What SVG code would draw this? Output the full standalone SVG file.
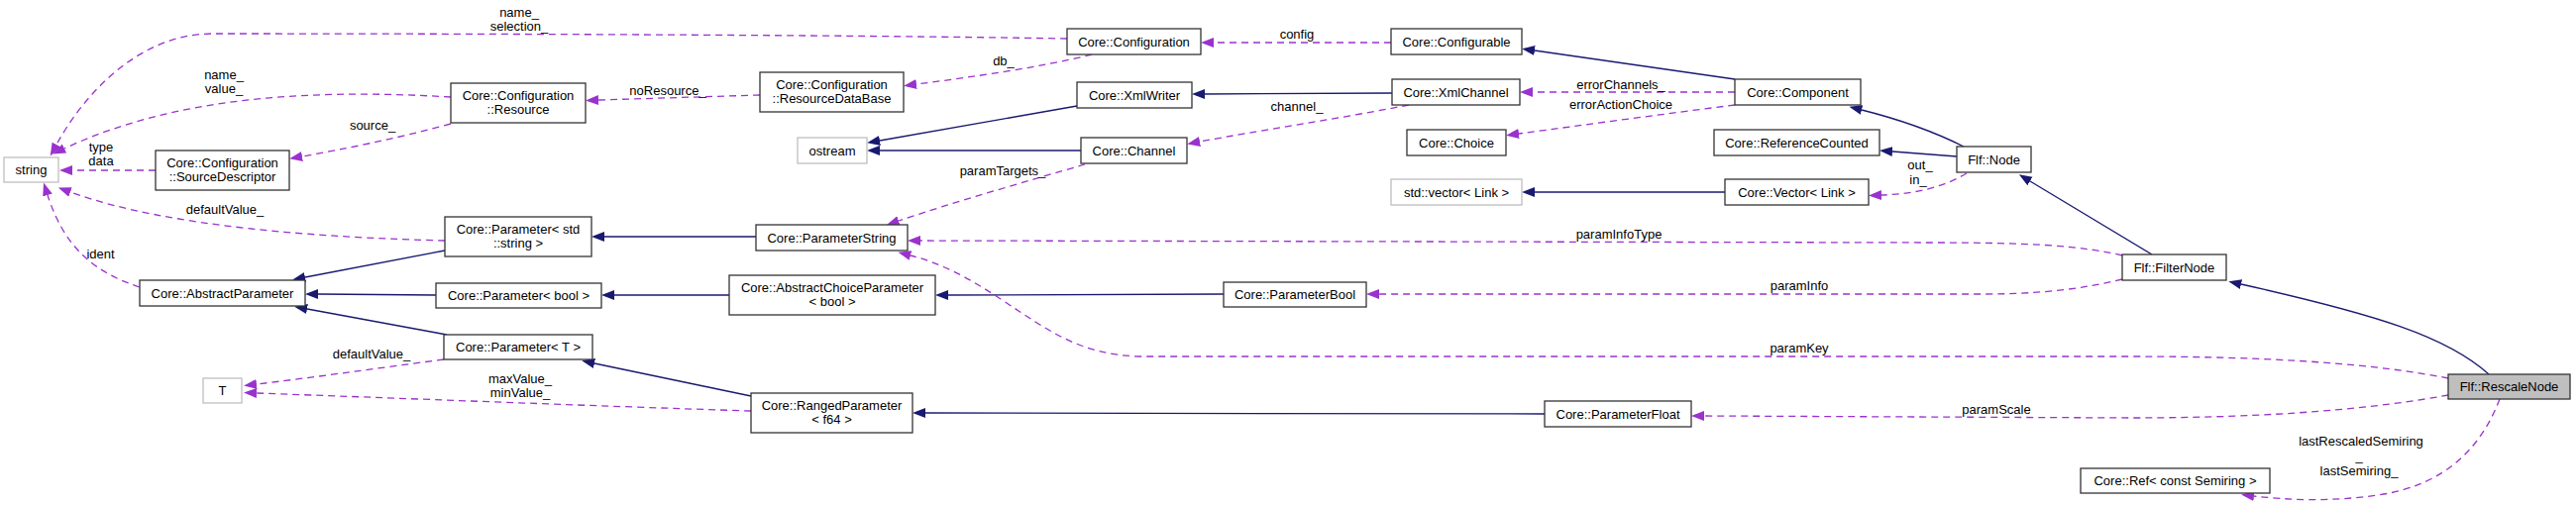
<svg xmlns="http://www.w3.org/2000/svg" width="2600" height="510" viewBox="0 0 2600 510">
<defs>
<style>
text{font-family:"Liberation Sans",Arial,Helvetica,sans-serif;font-size:13px;text-anchor:middle;fill:#000}
.n rect{fill:#fff;stroke:#333;stroke-width:1.3}
.g rect{stroke:#bfbfbf}
.hl rect{fill:#bfbfbf}
.inh{fill:none;stroke:#191970;stroke-width:1.3;marker-end:url(#an)}
.use{fill:none;stroke:#9a32cd;stroke-width:1.3;stroke-dasharray:7,5;marker-end:url(#au)}
</style>
<marker id="an" markerUnits="userSpaceOnUse" markerWidth="14" markerHeight="11" viewBox="0 0 14 11" refX="0" refY="5" orient="auto"><path d="M0,0 L13,5 L0,10 z" fill="#191970" stroke="none"/></marker>
<marker id="au" markerUnits="userSpaceOnUse" markerWidth="14" markerHeight="11" viewBox="0 0 14 11" refX="0" refY="5" orient="auto"><path d="M0,0 L13,5 L0,10 z" fill="#9a32cd" stroke="none"/></marker>
</defs>
<rect width="2600" height="510" fill="#fff"/>
<g id="connectors">
<path class="use" d="M1077,39 C850,35 450,34 215,34 C140,34 85,95 57,146"/>
<path class="use" d="M455,98 C320,90 180,96 65,150"/>
<path class="use" d="M455,125 C400,140 350,150 305,158"/>
<path class="use" d="M157,172 L73,172"/>
<path class="use" d="M449,243 C330,240 170,230 71,194"/>
<path class="use" d="M141,290 C95,275 65,250 48,197"/>
<path class="inh" d="M449,253 L308,280"/>
<path class="inh" d="M440,298 L321,297"/>
<path class="inh" d="M451,338 L310,312"/>
<path class="use" d="M448,363 C380,372 310,382 259,388"/>
<path class="use" d="M758,415 C600,410 400,402 259,397"/>
<path class="inh" d="M758,400 L600,367"/>
<path class="inh" d="M736,298 L620,298"/>
<path class="inh" d="M1235,297 L957,298"/>
<path class="inh" d="M1559,418 L934,417"/>
<path class="use" d="M1102,55 C1050,68 980,78 925,85"/>
<path class="use" d="M767,96 L604,101"/>
<path class="inh" d="M1087,107 L888,142"/>
<path class="inh" d="M1091,152 L888,152"/>
<path class="use" d="M1095,166 C1040,182 960,205 907,223"/>
<path class="inh" d="M763,239 L610,239"/>
<path class="inh" d="M1405,94 L1216,95"/>
<path class="use" d="M1422,106 C1350,120 1270,132 1211,143"/>
<path class="use" d="M1404,43 L1225,43"/>
<path class="inh" d="M1751,80 L1549,51"/>
<path class="use" d="M1751,93 L1547,93"/>
<path class="use" d="M1751,106 C1680,115 1600,126 1533,135"/>
<path class="inh" d="M1982,148 C1950,132 1915,120 1879,111"/>
<path class="inh" d="M1975,158 L1910,153"/>
<path class="use" d="M1985,175 C1960,190 1930,196 1899,197"/>
<path class="inh" d="M1741,194 L1549,194"/>
<path class="inh" d="M2172,257 L2049,183"/>
<path class="inh" d="M2512,378 C2470,340 2400,318 2262,287"/>
<path class="use" d="M2142,282 C2100,292 2060,297 2000,297 L1392,297"/>
<path class="use" d="M2142,258 C2100,248 2050,245 1950,245 L929,243"/>
<path class="use" d="M2471,382 C2400,368 2300,360 2150,360 L1150,360 C1090,358 1060,335 1010,302 C975,279 950,266 919,258"/>
<path class="use" d="M2471,399 C2400,412 2300,422 2150,422 L1720,420"/>
<path class="use" d="M2523,403 C2505,450 2470,490 2400,500 C2350,507 2310,505 2275,501"/>
</g>
<g id="edge-labels">
<text x="524" y="16.5">name_</text><text x="524" y="31">selection_</text>
<text x="226" y="80">name_</text><text x="226" y="94">value_</text>
<text x="376" y="131">source_</text>
<text x="102" y="153">type</text><text x="102" y="167">data</text>
<text x="227" y="216">defaultValue_</text>
<text x="101.5" y="261">ident</text>
<text x="375" y="362">defaultValue_</text>
<text x="525" y="387">maxValue_</text><text x="525" y="401">minValue_</text>
<text x="1013" y="66">db_</text>
<text x="674" y="95.5">noResource_</text>
<text x="1012" y="177">paramTargets_</text>
<text x="1309" y="39">config</text>
<text x="1309" y="112">channel_</text>
<text x="1636" y="89.5">errorChannels_</text>
<text x="1636" y="109.5">errorActionChoice</text>
<text x="1938" y="171">out_</text><text x="1936" y="185.5">in_</text>
<text x="1634" y="241">paramInfoType</text>
<text x="1816" y="293">paramInfo</text>
<text x="1816" y="356">paramKey</text>
<text x="2015" y="418">paramScale</text>
<text x="2383" y="450">lastRescaledSemiring</text><text x="2381" y="465">_</text><text x="2381" y="480">lastSemiring_</text>
</g>
<g id="string" class="n g"><rect x="4" y="159" width="55" height="25"/><text x="31.5" y="176">string</text></g>
<g id="resource" class="n"><rect x="455" y="84" width="136" height="40"/><text x="523" y="100.5">Core::Configuration</text><text x="523" y="114.5">::Resource</text></g>
<g id="sourcedescriptor" class="n"><rect x="157" y="152" width="135" height="40"/><text x="224.5" y="168.5">Core::Configuration</text><text x="224.5" y="182.5">::SourceDescriptor</text></g>
<g id="param-string" class="n"><rect x="449" y="219" width="148" height="40"/><text x="523" y="235.5">Core::Parameter&lt; std</text><text x="523" y="249.5">::string &gt;</text></g>
<g id="abstractparameter" class="n"><rect x="141" y="283" width="167" height="26"/><text x="224.5" y="300.5">Core::AbstractParameter</text></g>
<g id="param-bool" class="n"><rect x="440" y="286" width="167" height="25"/><text x="523.5" y="303">Core::Parameter&lt; bool &gt;</text></g>
<g id="param-t" class="n"><rect x="448" y="338" width="150" height="25"/><text x="523" y="355">Core::Parameter&lt; T &gt;</text></g>
<g id="t" class="n g"><rect x="205" y="382" width="39" height="25"/><text x="224.5" y="399">T</text></g>
<g id="configuration" class="n"><rect x="1077" y="29" width="135" height="26"/><text x="1144.5" y="46.5">Core::Configuration</text></g>
<g id="resourcedatabase" class="n"><rect x="767" y="73" width="145" height="40"/><text x="839.5" y="89.5">Core::Configuration</text><text x="839.5" y="103.5">::ResourceDataBase</text></g>
<g id="xmlwriter" class="n"><rect x="1087" y="83" width="116" height="26"/><text x="1145" y="100.5">Core::XmlWriter</text></g>
<g id="ostream" class="n g"><rect x="805" y="139" width="70" height="26"/><text x="840" y="156.5">ostream</text></g>
<g id="channel" class="n"><rect x="1091" y="139" width="107" height="26"/><text x="1144.5" y="156.5">Core::Channel</text></g>
<g id="parameterstring" class="n"><rect x="763" y="227" width="153" height="26"/><text x="839.5" y="244.5">Core::ParameterString</text></g>
<g id="abstractchoiceparameter" class="n"><rect x="736" y="278" width="208" height="40"/><text x="840" y="294.5">Core::AbstractChoiceParameter</text><text x="840" y="308.5">&lt; bool &gt;</text></g>
<g id="rangedparameter" class="n"><rect x="758" y="397" width="163" height="40"/><text x="839.5" y="413.5">Core::RangedParameter</text><text x="839.5" y="427.5">&lt; f64 &gt;</text></g>
<g id="parameterbool" class="n"><rect x="1235" y="285" width="144" height="25"/><text x="1307" y="302">Core::ParameterBool</text></g>
<g id="parameterfloat" class="n"><rect x="1559" y="405" width="148" height="26"/><text x="1633" y="422.5">Core::ParameterFloat</text></g>
<g id="configurable" class="n"><rect x="1404" y="29" width="132" height="26"/><text x="1470" y="46.5">Core::Configurable</text></g>
<g id="xmlchannel" class="n"><rect x="1405" y="80" width="129" height="26"/><text x="1469.5" y="97.5">Core::XmlChannel</text></g>
<g id="choice" class="n"><rect x="1420" y="131" width="100" height="26"/><text x="1470" y="148.5">Core::Choice</text></g>
<g id="stdvector" class="n g"><rect x="1404" y="181" width="132" height="26"/><text x="1470" y="198.5">std::vector&lt; Link &gt;</text></g>
<g id="component" class="n"><rect x="1751" y="80" width="127" height="26"/><text x="1814.5" y="97.5">Core::Component</text></g>
<g id="referencecounted" class="n"><rect x="1730" y="131" width="167" height="26"/><text x="1813.5" y="148.5">Core::ReferenceCounted</text></g>
<g id="vectorlink" class="n"><rect x="1741" y="181" width="145" height="26"/><text x="1813.5" y="198.5">Core::Vector&lt; Link &gt;</text></g>
<g id="node" class="n"><rect x="1975" y="148" width="75" height="26"/><text x="2012.5" y="165.5">Flf::Node</text></g>
<g id="filternode" class="n"><rect x="2142" y="257" width="105" height="26"/><text x="2194.5" y="274.5">Flf::FilterNode</text></g>
<g id="rescalenode" class="n hl"><rect x="2471" y="378" width="123" height="25"/><text x="2532.5" y="395">Flf::RescaleNode</text></g>
<g id="ref-semiring" class="n"><rect x="2100" y="473" width="191" height="25"/><text x="2195.5" y="490">Core::Ref&lt; const Semiring &gt;</text></g>
</svg>
